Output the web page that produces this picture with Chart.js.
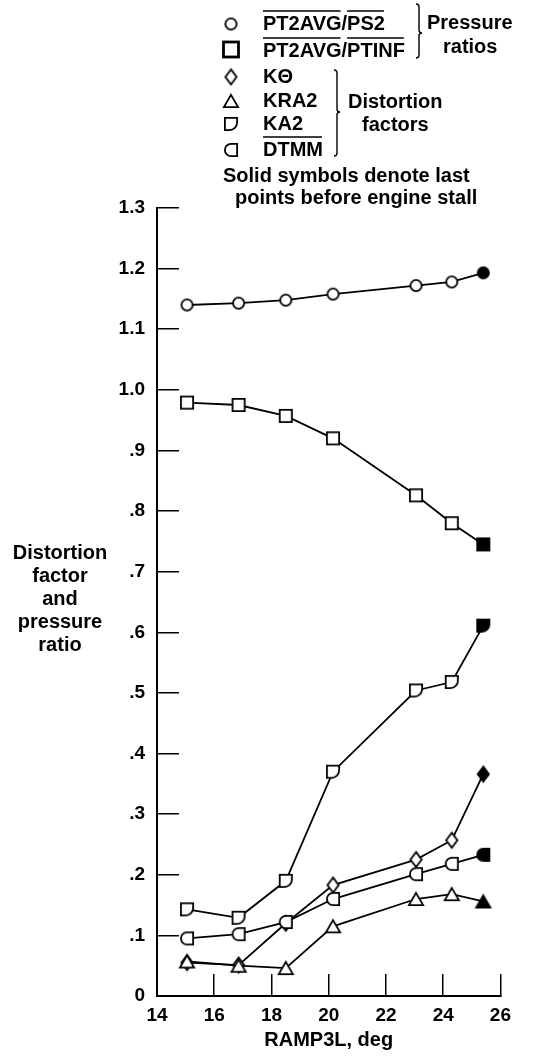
<!DOCTYPE html>
<html>
<head>
<meta charset="utf-8">
<script src="https://cdn.jsdelivr.net/npm/chart.js@4.4.0/dist/chart.umd.min.js"></script>
<style>
  html, body { margin: 0; padding: 0; background: #fff; }
  canvas { display: block; }
</style>
</head>
<body>
<canvas id="rampChart" width="541" height="1057"></canvas>
<script>
// RAMP3L, deg (same settings for every curve)
const ramp = [15.05, 16.85, 18.5, 20.15, 23.05, 24.3, 25.4];

// pressure ratios
const pt2avgPs2 = [1.140, 1.143, 1.148, 1.158, 1.172, 1.178, 1.193];
const pt2avgPtinf = [0.979, 0.975, 0.957, 0.920, 0.826, 0.780, 0.745];

// distortion factors
const kTheta = [0.055, 0.051, 0.120, 0.183, 0.225, 0.257, 0.366];
const kra2 = [0.057, 0.050, 0.046, 0.115, 0.160, 0.168, 0.156];
const ka2 = [0.143, 0.129, 0.190, 0.370, 0.504, 0.518, 0.611];
const dtmm = [0.095, 0.102, 0.122, 0.160, 0.201, 0.218, 0.233];

// axes
const xTicks = [14, 16, 18, 20, 22, 24, 26];
const yTicks = [0, 0.1, 0.2, 0.3, 0.4, 0.5, 0.6, 0.7, 0.8, 0.9, 1.0, 1.1, 1.2, 1.3];
const yTickLabels = ['0', '.1', '.2', '.3', '.4', '.5', '.6', '.7', '.8', '.9', '1.0', '1.1', '1.2', '1.3'];
const yTitle = ['Distortion', 'factor', 'and', 'pressure', 'ratio'];

const FONT = '"Liberation Sans", Arial, Helvetica, sans-serif';

// small canvases used as point symbols (open / solid)
function marker(shape, solid, w, h, lw) {
    lw = lw || 1.8;
    const c = document.createElement('canvas');
    c.width = w + 4;
    c.height = h + 4;
    const g = c.getContext('2d');
    const x0 = 2 + lw / 2, y0 = 2 + lw / 2, iw = w - lw, ih = h - lw;
    g.beginPath();
    if (shape === 'circle') {
        g.ellipse(x0 + iw / 2, y0 + ih / 2, iw / 2, ih / 2, 0, 0, Math.PI * 2);
    } else if (shape === 'square') {
        g.rect(x0, y0, iw, ih);
    } else if (shape === 'diamond') {
        g.moveTo(x0 + iw / 2, y0);
        g.lineTo(x0 + iw, y0 + ih / 2);
        g.lineTo(x0 + iw / 2, y0 + ih);
        g.lineTo(x0, y0 + ih / 2);
        g.closePath();
    } else if (shape === 'triangle') {
        g.moveTo(x0 + iw / 2, y0);
        g.lineTo(x0 + iw, y0 + ih);
        g.lineTo(x0, y0 + ih);
        g.closePath();
    } else if (shape === 'dee') {
        g.roundRect(x0, y0, iw, ih, [0, 0, iw * 0.62, 0]);
    } else if (shape === 'gee') {
        g.roundRect(x0, y0, iw, ih, [iw * 0.5, 0, 0, iw * 0.5]);
    }
    g.fillStyle = solid ? '#000' : '#fff';
    g.fill();
    g.lineWidth = lw;
    g.strokeStyle = '#000';
    g.stroke();
    return c;
}

const symbols = {
    circle: [marker('circle', false, 13, 13), marker('circle', true, 13, 13)],
    square: [marker('square', false, 14, 14), marker('square', true, 14, 14)],
    diamond: [marker('diamond', false, 13, 17), marker('diamond', true, 13, 17)],
    triangle: [marker('triangle', false, 16, 14), marker('triangle', true, 16, 14)],
    dee: [marker('dee', false, 14, 14), marker('dee', true, 14, 14)],
    gee: [marker('gee', false, 14, 14), marker('gee', true, 14, 14)]
};

function series(label, values, shape) {
    const last = values.length - 1;
    return {
        label: label,
        data: values.map((v, i) => ({ x: ramp[i], y: v })),
        borderColor: '#000',
        borderWidth: 1.8,
        tension: 0,
        fill: false,
        pointStyle: values.map((v, i) => symbols[shape][i === last ? 1 : 0]),
        pointRadius: 7,
        pointHoverRadius: 7
    };
}

// brace like } drawn at x from y1 to y2, tip at ym
function brace(g, x, y1, y2, ym, a) {
    g.beginPath();
    g.moveTo(x - a, y1);
    g.quadraticCurveTo(x, y1, x, y1 + a);
    g.lineTo(x, ym - a);
    g.quadraticCurveTo(x, ym, x + a, ym);
    g.quadraticCurveTo(x, ym, x, ym + a);
    g.lineTo(x, y2 - a);
    g.quadraticCurveTo(x, y2, x - a, y2);
    g.stroke();
}

const legendRows = [
    { shape: 'circle', base: 30, parts: [['PT2AVG', true], ['/', false], ['PS2', true]] },
    { shape: 'square', base: 57, parts: [['PT2AVG', true], ['/', false], ['PTINF', true]] },
    { shape: 'diamond', base: 83, parts: [['K\u0398', false]] },
    { shape: 'triangle', base: 107, parts: [['KRA2', false]] },
    { shape: 'dee', base: 130, parts: [['KA2', false]] },
    { shape: 'gee', base: 156, parts: [['DTMM', true]] }
];

const notesPlugin = {
    id: 'notes',
    afterDraw(chart) {
        const g = chart.ctx;
        g.save();
        g.fillStyle = '#000';
        g.strokeStyle = '#000';
        g.font = 'bold 20px ' + FONT;

        // y axis title, horizontal lines
        g.textAlign = 'center';
        g.textBaseline = 'middle';
        yTitle.forEach((t, i) => g.fillText(t, 60, 553 + i * 23));

        // key
        g.textAlign = 'left';
        g.textBaseline = 'alphabetic';
        legendRows.forEach(r => {
            const img = symbols[r.shape][0];
            if (r.shape === 'square') {
                g.lineWidth = 2.8;
                g.strokeRect(223.5, r.base - 15, 15, 15);
            } else {
                g.drawImage(img, 231 - img.width / 2, r.base - 6 - img.height / 2);
            }
            let x = 263;
            r.parts.forEach(p => {
                const w = g.measureText(p[0]).width;
                g.fillText(p[0], x, r.base);
                if (p[1]) {
                    g.lineWidth = 1.4;
                    g.beginPath();
                    g.moveTo(x, r.base - 19);
                    g.lineTo(x + w - 1, r.base - 19);
                    g.stroke();
                }
                x += w;
            });
        });

        g.fillText('Pressure', 427, 29);
        g.fillText('ratios', 443, 53);
        g.fillText('Distortion', 348, 108);
        g.fillText('factors', 362, 131);
        g.fillText('Solid symbols denote last', 223, 182);
        g.fillText('points before engine stall', 235, 204);

        g.lineWidth = 1.4;
        brace(g, 419, 4, 58, 33, 3);
        brace(g, 337, 70, 156, 112, 3);
        g.restore();
    }
};

new Chart(document.getElementById('rampChart').getContext('2d'), {
    type: 'line',
    data: {
        datasets: [
            series('PT2AVG/PS2', pt2avgPs2, 'circle'),
            series('PT2AVG/PTINF', pt2avgPtinf, 'square'),
            series('KA2', ka2, 'dee'),
            series('KRA2', kra2, 'triangle'),
            series('DTMM', dtmm, 'gee'),
            series('K\u0398', kTheta, 'diamond')
        ]
    },
    options: {
        responsive: false,
        animation: false,
        events: [],
        layout: { padding: { top: 208, right: 14, left: 0, bottom: 0 } },
        plugins: {
            legend: { display: false },
            tooltip: { enabled: false }
        },
        scales: {
            x: {
                type: 'linear',
                min: 14,
                max: 26,
                afterBuildTicks: s => { s.ticks = xTicks.map(v => ({ value: v })); },
                afterFit: s => { s.height = 61; },
                grid: { drawOnChartArea: false, drawTicks: true, tickLength: -22, color: '#000', lineWidth: 1.5 },
                border: { color: '#000', width: 2 },
                ticks: {
                    padding: 30,
                    color: '#000',
                    maxRotation: 0,
                    autoSkip: false,
                    font: { family: FONT, size: 19, weight: 'bold' }
                },
                title: {
                    display: true,
                    text: 'RAMP3L, deg',
                    color: '#000',
                    font: { family: FONT, size: 20, weight: 'bold' },
                    padding: { top: 0, bottom: 5 }
                }
            },
            y: {
                min: 0,
                max: 1.3,
                afterBuildTicks: s => { s.ticks = yTicks.map(v => ({ value: v })); },
                afterFit: s => { s.width = 157; },
                grid: { drawOnChartArea: false, drawTicks: true, tickLength: -22, color: '#000', lineWidth: 1.5 },
                border: { color: '#000', width: 2 },
                ticks: {
                    padding: 34,
                    color: '#000',
                    autoSkip: false,
                    callback: (v, i) => yTickLabels[i],
                    font: { family: FONT, size: 19, weight: 'bold' }
                }
            }
        }
    },
    plugins: [notesPlugin]
});
</script>
</body>
</html>
